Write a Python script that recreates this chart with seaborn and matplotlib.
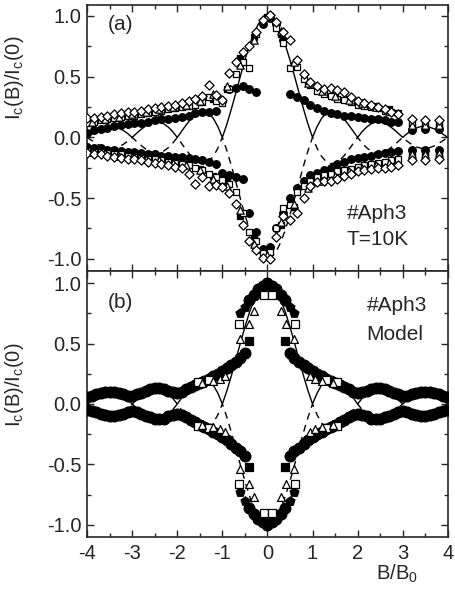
import numpy as np
import pandas as pd
import matplotlib
matplotlib.use('Agg')
import matplotlib.pyplot as plt
import seaborn as sns

# field grid for the curves and the model band (B/B0)
grid = [-4.0, -3.9, -3.8, -3.7, -3.6, -3.5, -3.4, -3.3, -3.2, -3.1,
        -3.0, -2.9, -2.8, -2.7, -2.6, -2.5, -2.4, -2.3, -2.2, -2.1,
        -2.0, -1.9, -1.8, -1.7, -1.6, -1.5, -1.4, -1.3, -1.2, -1.1,
        -1.0, -0.9, -0.8, -0.7, -0.6, -0.5, -0.4, -0.3, -0.2, -0.1,
        0.0, 0.1, 0.2, 0.3, 0.4, 0.5, 0.6, 0.7, 0.8, 0.9,
        1.0, 1.1, 1.2, 1.3, 1.4, 1.5, 1.6, 1.7, 1.8, 1.9,
        2.0, 2.1, 2.2, 2.3, 2.4, 2.5, 2.6, 2.7, 2.8, 2.9,
        3.0, 3.1, 3.2, 3.3, 3.4, 3.5, 3.6, 3.7, 3.8, 3.9, 4.0]

# Fraunhofer lobes (solid = +, dashed = -)
fr_pos = [0.0, 0.025, 0.049, 0.070, 0.084, 0.091, 0.089, 0.078, 0.058, 0.032,
          0.0, 0.034, 0.067, 0.095, 0.116, 0.127, 0.126, 0.112, 0.085, 0.047,
          0.0, 0.052, 0.104, 0.151, 0.189, 0.212, 0.216, 0.198, 0.156, 0.089,
          0.0, 0.109, 0.234, 0.368, 0.505, 0.637, 0.757, 0.858, 0.935, 0.984,
          1.0, 0.984, 0.935, 0.858, 0.757, 0.637, 0.505, 0.368, 0.234, 0.109,
          0.0, 0.089, 0.156, 0.198, 0.216, 0.212, 0.189, 0.151, 0.104, 0.052,
          0.0, 0.047, 0.085, 0.112, 0.126, 0.127, 0.116, 0.095, 0.067, 0.034,
          0.0, 0.032, 0.058, 0.078, 0.089, 0.091, 0.084, 0.070, 0.049, 0.025, 0.0]
fr_neg = [-0.0, -0.025, -0.049, -0.070, -0.084, -0.091, -0.089, -0.078, -0.058, -0.032,
          -0.0, -0.034, -0.067, -0.095, -0.116, -0.127, -0.126, -0.112, -0.085, -0.047,
          -0.0, -0.052, -0.104, -0.151, -0.189, -0.212, -0.216, -0.198, -0.156, -0.089,
          -0.0, -0.109, -0.234, -0.368, -0.505, -0.637, -0.757, -0.858, -0.935, -0.984,
          -1.0, -0.984, -0.935, -0.858, -0.757, -0.637, -0.505, -0.368, -0.234, -0.109,
          -0.0, -0.089, -0.156, -0.198, -0.216, -0.212, -0.189, -0.151, -0.104, -0.052,
          -0.0, -0.047, -0.085, -0.112, -0.126, -0.127, -0.116, -0.095, -0.067, -0.034,
          -0.0, -0.032, -0.058, -0.078, -0.089, -0.091, -0.084, -0.070, -0.049, -0.025, -0.0]

# ---- panel (a): measured data, T = 10 K ----
xa = [-4.0, -3.85, -3.7, -3.55, -3.4, -3.25, -3.1, -2.95, -2.8, -2.65,
      -2.5, -2.35, -2.2, -2.05, -1.9, -1.75, -1.6, -1.45, -1.3, -1.15,
      -1.0, -0.85, -0.7, -0.55, -0.4, -0.25, -0.1, 0.05, 0.2, 0.35,
      0.5, 0.65, 0.8, 0.95, 1.1, 1.25, 1.4, 1.55, 1.7, 1.85,
      2.0, 2.15, 2.3, 2.45, 2.6, 2.75, 2.9, 3.2, 3.5, 3.8]
dia_pos = [0.16, 0.16, 0.17, 0.18, 0.19, 0.20, 0.21, 0.21, 0.22, 0.23,
           0.24, 0.25, 0.26, 0.27, 0.28, 0.30, 0.32, 0.34, 0.43, 0.35,
           0.31, 0.53, 0.62, 0.70, 0.75, 0.87, 0.97, 1.01, 0.95, 0.87,
           0.80, 0.64, 0.52, 0.46, 0.42, 0.40, 0.41, 0.39, 0.37, 0.33,
           0.30, 0.28, 0.27, 0.25, 0.23, 0.21, 0.19, 0.15, 0.14, 0.14]
dia_neg = [-0.13, -0.14, -0.14, -0.15, -0.16, -0.17, -0.18, -0.18, -0.19, -0.20,
           -0.21, -0.22, -0.23, -0.24, -0.25, -0.30, -0.38, -0.33, -0.40, -0.39,
           -0.41, -0.46, -0.55, -0.72, -0.85, -0.93, -0.99, -1.00, -0.82, -0.65,
           -0.68, -0.62, -0.50, -0.40, -0.37, -0.36, -0.36, -0.34, -0.32, -0.30,
           -0.28, -0.27, -0.26, -0.25, -0.25, -0.24, -0.23, -0.19, -0.19, -0.18]
circ_pos = [0.04, 0.06, 0.07, 0.08, 0.09, 0.10, 0.11, 0.12, 0.12, 0.13,
            0.14, 0.15, 0.15, 0.16, 0.17, 0.18, 0.20, 0.21, 0.21, 0.22,
            0.30, 0.40, 0.41, 0.42, 0.40, 0.37, 0.93, 0.98, 0.93, 0.80,
            0.36, 0.33, 0.31, 0.27, 0.24, 0.22, 0.20, 0.19, 0.18, 0.18,
            0.17, 0.16, 0.15, 0.15, 0.14, 0.13, 0.13, 0.06, 0.07, 0.07]
circ_neg = [-0.08, -0.09, -0.09, -0.10, -0.10, -0.11, -0.12, -0.12, -0.13, -0.14,
            -0.14, -0.15, -0.15, -0.16, -0.16, -0.17, -0.18, -0.19, -0.20, -0.22,
            -0.29, -0.31, -0.33, -0.34, -0.62, -0.78, -0.92, -0.90, -0.75, -0.62,
            -0.50, -0.42, -0.36, -0.31, -0.29, -0.27, -0.25, -0.22, -0.20, -0.18,
            -0.17, -0.16, -0.15, -0.14, -0.13, -0.12, -0.11, -0.10, -0.10, -0.10]
sq_pos = [0.12, 0.13, 0.14, 0.15, 0.16, 0.17, 0.18, 0.18, 0.19, 0.20,
          0.21, 0.22, 0.23, 0.24, 0.25, 0.26, 0.27, 0.29, 0.33, 0.30,
          0.28, 0.40, 0.52, 0.62, 0.57, 0.85, 0.96, 1.00, 0.90, 0.78,
          0.57, 0.58, 0.48, 0.43, 0.38, 0.36, 0.34, 0.32, 0.31, 0.29,
          0.27, 0.26, 0.25, 0.24, 0.22, 0.21, 0.20, 0.12, 0.12, 0.11]
sq_neg = [-0.11, -0.12, -0.12, -0.13, -0.14, -0.14, -0.15, -0.16, -0.17, -0.18,
          -0.18, -0.19, -0.20, -0.21, -0.22, -0.23, -0.25, -0.27, -0.30, -0.33,
          -0.35, -0.38, -0.45, -0.62, -0.78, -0.85, -0.95, -0.94, -0.75, -0.58,
          -0.56, -0.45, -0.40, -0.36, -0.33, -0.31, -0.30, -0.28, -0.27, -0.26,
          -0.24, -0.23, -0.22, -0.21, -0.20, -0.19, -0.18, -0.16, -0.16, -0.15]

xa2 = [-3.9, -3.6, -3.3, -3.0, -2.7, -2.4, -2.1, -1.8, -1.5, -1.2, -0.9, -0.6, -0.3,
       0.0, 0.3, 0.6, 0.9, 1.2, 1.5, 1.8, 2.1, 2.4, 2.7, 3.2, 3.5, 3.8]
tri_pos = [0.13, 0.15, 0.17, 0.19, 0.21, 0.23, 0.25, 0.27, 0.30, 0.36, 0.42, 0.60, 0.80,
           1.00, 0.88, 0.62, 0.45, 0.38, 0.34, 0.31, 0.28, 0.25, 0.22, 0.10, 0.10, 0.10]
tri_neg = [-0.12, -0.13, -0.15, -0.16, -0.18, -0.19, -0.21, -0.23, -0.27, -0.34, -0.40, -0.60, -0.88,
           -0.97, -0.70, -0.55, -0.42, -0.36, -0.32, -0.28, -0.25, -0.23, -0.21, -0.14, -0.14, -0.13]
fsq_pos = [0.12, 0.14, 0.16, 0.18, 0.20, 0.22, 0.24, 0.26, 0.29, 0.32, 0.40, 0.65, 0.83,
           0.99, 0.85, 0.60, 0.46, 0.39, 0.35, 0.32, 0.28, 0.26, 0.23, 0.09, 0.09, 0.09]
fsq_neg = [-0.11, -0.12, -0.13, -0.15, -0.17, -0.18, -0.20, -0.22, -0.26, -0.32, -0.36, -0.65, -0.82,
           -0.96, -0.72, -0.57, -0.41, -0.34, -0.30, -0.27, -0.24, -0.22, -0.20, -0.13, -0.12, -0.12]

# ---- panel (b): model ----
band_pos = [0.06, 0.07, 0.08, 0.09, 0.10, 0.10, 0.10, 0.09, 0.08, 0.07,
            0.07, 0.08, 0.09, 0.11, 0.12, 0.13, 0.13, 0.12, 0.11, 0.10,
            0.09, 0.10, 0.12, 0.14, 0.16, 0.17, 0.19, 0.21, 0.23, 0.25,
            0.27, 0.30, 0.32, 0.35, 0.38, 0.42, 0.86, 0.90, 0.95, 0.98,
            1.00, 0.98, 0.95, 0.90, 0.86, 0.42, 0.38, 0.35, 0.32, 0.30,
            0.27, 0.25, 0.23, 0.21, 0.19, 0.17, 0.16, 0.14, 0.12, 0.10,
            0.09, 0.10, 0.11, 0.12, 0.13, 0.13, 0.12, 0.11, 0.09, 0.08,
            0.07, 0.07, 0.08, 0.09, 0.10, 0.10, 0.10, 0.09, 0.08, 0.07, 0.06]
band_neg = [-0.05, -0.06, -0.07, -0.08, -0.09, -0.10, -0.10, -0.09, -0.08, -0.07,
            -0.06, -0.07, -0.08, -0.10, -0.11, -0.12, -0.12, -0.12, -0.10, -0.09,
            -0.08, -0.09, -0.11, -0.13, -0.15, -0.17, -0.19, -0.21, -0.23, -0.25,
            -0.27, -0.30, -0.33, -0.36, -0.39, -0.43, -0.86, -0.91, -0.95, -0.98,
            -1.00, -0.98, -0.95, -0.91, -0.86, -0.43, -0.39, -0.36, -0.33, -0.30,
            -0.27, -0.25, -0.23, -0.21, -0.19, -0.17, -0.15, -0.13, -0.11, -0.09,
            -0.08, -0.09, -0.10, -0.12, -0.12, -0.12, -0.11, -0.10, -0.08, -0.07,
            -0.06, -0.07, -0.08, -0.09, -0.10, -0.10, -0.09, -0.08, -0.07, -0.06, -0.05]
tri_b_x = [-1.45, -1.2, -1.05, -0.95, -0.6, -0.42, -0.3, 0.3, 0.42, 0.6, 0.95, 1.05, 1.2, 1.45]
tri_b_pos = [0.17, 0.19, 0.21, 0.23, 0.54, 0.66, 0.77, 0.77, 0.66, 0.54, 0.23, 0.21, 0.19, 0.17]
tri_b_neg = [-0.17, -0.19, -0.21, -0.23, -0.54, -0.66, -0.77, -0.77, -0.66, -0.54, -0.23, -0.21, -0.19, -0.17]
sq_b_x = [-1.55, -1.3, -0.62, -0.07, 0.1, 0.62, 1.3, 1.55]
sq_b_pos = [0.18, 0.20, 0.66, 0.90, 0.90, 0.66, 0.20, 0.18]
sq_b_neg = [-0.18, -0.20, -0.66, -0.90, -0.90, -0.66, -0.20, -0.18]
fsq_b_x = [-0.4, 0.4]
fsq_b_pos = [0.52, 0.52]
fsq_b_neg = [-0.52, -0.52]
pent_b_x = [-0.6, -0.5, 0.5, 0.6]
pent_b_pos = [0.75, 0.80, 0.80, 0.75]
pent_b_neg = [-0.73, -0.80, -0.80, -0.73]

sns.set_style('ticks')
plt.rcParams['font.family'] = ['Liberation Sans', 'DejaVu Sans']
plt.rcParams['mathtext.default'] = 'regular'
plt.rcParams['axes.unicode_minus'] = False

fig, (ax1, ax2) = plt.subplots(2, 1, figsize=(4.56, 5.91), dpi=100, sharex=True)
fig.subplots_adjust(left=0.191, right=0.982, top=0.9915, bottom=0.0914, hspace=0)


def pts(ax, x, y, marker, filled, s=26):
    sns.scatterplot(x=x, y=y, ax=ax, marker=marker, s=s,
                    color='black' if filled else 'white', edgecolor='black',
                    linewidth=0.9, legend=False, zorder=3)


def curves(ax):
    sns.lineplot(x=grid, y=fr_pos, ax=ax, color='black', lw=1.0,
                 estimator=None, sort=False, zorder=2)
    sns.lineplot(x=grid, y=fr_neg, ax=ax, color='black', lw=1.0,
                 linestyle=(0, (5, 4)), estimator=None, sort=False, zorder=2)


# panel (a)
curves(ax1)
for yv in (circ_pos, circ_neg):
    pts(ax1, xa, yv, 'o', True, 30)
for yv in (fsq_pos, fsq_neg):
    pts(ax1, xa2, yv, 's', True, 24)
for yv in (sq_pos, sq_neg):
    pts(ax1, xa, yv, 's', False, 24)
for yv in (tri_pos, tri_neg):
    pts(ax1, xa2, yv, '^', False, 28)
for yv in (dia_pos, dia_neg):
    pts(ax1, xa, yv, 'D', False, 22)

# panel (b)
curves(ax2)
for yv in (band_pos, band_neg):
    pts(ax2, grid, yv, 'o', True, 60)
for yv in (pent_b_pos, pent_b_neg):
    pts(ax2, pent_b_x, yv, 'p', True, 45)
for yv in (fsq_b_pos, fsq_b_neg):
    pts(ax2, fsq_b_x, yv, 's', True, 26)
for yv in (sq_b_pos, sq_b_neg):
    pts(ax2, sq_b_x, yv, 's', False, 26)
for yv in (tri_b_pos, tri_b_neg):
    pts(ax2, tri_b_x, yv, '^', False, 32)

for ax in (ax1, ax2):
    ax.set_xlim(-4, 4)
    ax.set_ylim(-1.1, 1.1)
    ax.set_xticks([-4, -3, -2, -1, 0, 1, 2, 3, 4])
    ax.set_xticks(np.arange(-4, 4.01, 0.5), minor=True)
    ax.set_yticks([-1.0, -0.5, 0.0, 0.5, 1.0])
    ax.set_yticks(np.arange(-1.0, 1.01, 0.25), minor=True)
    ax.yaxis.set_major_formatter(matplotlib.ticker.FormatStrFormatter('%.1f'))
    ax.tick_params(which='both', direction='in', top=True, right=True, width=1.0,
                   labelsize=14.5, pad=4)
    ax.tick_params(which='major', length=5)
    ax.tick_params(which='minor', length=3)
    for sp in ax.spines.values():
        sp.set_linewidth(1.2)
        sp.set_visible(True)
    ax.set_ylabel(r'I$_c$(B)/I$_c$(0)', fontsize=14.5)

ax1.tick_params(labelbottom=False)
ax1.set_ylim(-1.1, 1.09)
ax1.yaxis.set_label_coords(-0.17, 0.725)
ax2.yaxis.set_label_coords(-0.17, 0.573)
ax2.set_xlabel(r'B/B$_0$', fontsize=14.5)
ax2.xaxis.set_label_coords(0.858, -0.095)
ax2.tick_params(axis='x', pad=5)

ax1.text(0.057, 0.925, '(a)', transform=ax1.transAxes, fontsize=15, va='center')
ax1.text(0.72, 0.215, '#Aph3', transform=ax1.transAxes, fontsize=15, va='center')
ax1.text(0.72, 0.12, 'T=10K', transform=ax1.transAxes, fontsize=15, va='center')
ax2.text(0.057, 0.88, '(b)', transform=ax2.transAxes, fontsize=15, va='center')
ax2.text(0.775, 0.87, '#Aph3', transform=ax2.transAxes, fontsize=15, va='center')
ax2.text(0.775, 0.76, 'Model', transform=ax2.transAxes, fontsize=15, va='center')

fig.savefig('out.png', dpi=100)
